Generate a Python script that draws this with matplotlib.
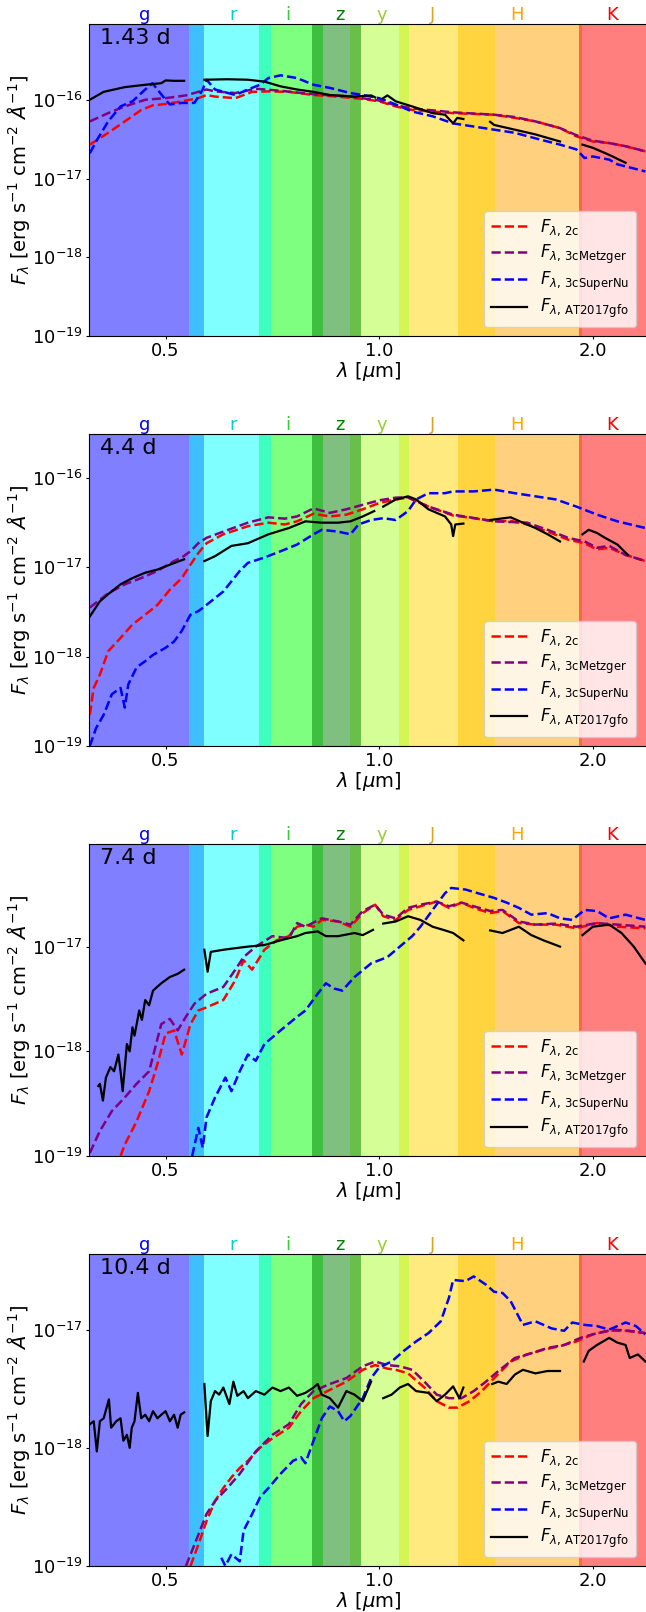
import numpy as np
import matplotlib
matplotlib.use('Agg')
import matplotlib.pyplot as plt
from matplotlib.ticker import NullLocator
import matplotlib.transforms as mtransforms

nan = np.nan

# epochs after merger
epochs = ['1.43 d', '4.4 d', '7.4 d', '10.4 d']

# photometric bands (micron)
band_names = ['g', 'r', 'i', 'z', 'y', 'J', 'H', 'K']
band_lo = [0.30, 0.5395, 0.678, 0.804, 0.910, 1.065, 1.293, 1.911]
band_hi = [0.566, 0.703, 0.833, 0.942, 1.103, 1.456, 1.930, 2.60]
band_label_wl = [0.467, 0.622, 0.744, 0.881, 1.007, 1.19, 1.562, 2.13]
band_fill = ['blue', 'cyan', 'lime', 'green', 'greenyellow', 'gold', 'orange', 'red']
band_text = ['blue', 'darkturquoise', 'limegreen', 'green', 'yellowgreen',
             'goldenrod', 'orange', 'red']
band_draw_order = ['g', 'i', 'r', 'H', 'K', 'J', 'y', 'z']

# spectra: (wavelength [um], log10 F_lambda)
# --- 1.43 d
sed_2c_1 = [(0.391, -16.57), (0.415, -16.42), (0.438, -16.275), (0.462, -16.13), (0.480, -16.07),
            (0.500, -16.055), (0.527, -16.02), (0.556, -15.98), (0.571, -15.94), (0.587, -15.96),
            (0.627, -15.98), (0.662, -15.90), (0.698, -15.894), (0.746, -15.90), (0.808, -15.94),
            (0.875, -15.96), (0.948, -15.99), (1.0, -16.02), (1.055, -16.085), (1.113, -16.13),
            (1.189, -16.15), (1.271, -16.17), (1.452, -16.19), (1.553, -16.23), (1.660, -16.275),
            (1.798, -16.36), (1.896, -16.465), (2.0, -16.53), (2.109, -16.55), (2.224, -16.59),
            (2.372, -16.655)]
sed_metz_1 = [(0.391, -16.275), (0.415, -16.17), (0.438, -16.085), (0.468, -16.0), (0.500, -15.98),
              (0.534, -15.945), (0.571, -15.87), (0.587, -15.894), (0.627, -15.915), (0.670, -15.86),
              (0.726, -15.886), (0.808, -15.93), (0.911, -15.96), (1.0, -16.01), (1.055, -16.07),
              (1.113, -16.11), (1.271, -16.16), (1.452, -16.19), (1.553, -16.22), (1.660, -16.275),
              (1.798, -16.36), (1.896, -16.45), (2.0, -16.52), (2.109, -16.55), (2.224, -16.59),
              (2.372, -16.655)]
sed_snu_1 = [(0.391, -16.68), (0.399, -16.53), (0.415, -16.275), (0.432, -16.085), (0.449, -16.02),
             (0.468, -15.87), (0.479, -15.79), (0.500, -16.0), (0.507, -16.06), (0.527, -16.04),
             (0.549, -16.04), (0.564, -15.87), (0.571, -15.746), (0.587, -15.87), (0.627, -15.94),
             (0.653, -15.87), (0.679, -15.81), (0.698, -15.725), (0.726, -15.69), (0.766, -15.725),
             (0.808, -15.81), (0.852, -15.85), (0.911, -15.915), (0.948, -15.94), (1.0, -15.98),
             (1.055, -16.06), (1.113, -16.15), (1.189, -16.21), (1.271, -16.30), (1.359, -16.34),
             (1.452, -16.38), (1.553, -16.42), (1.660, -16.49), (1.798, -16.57), (1.896, -16.63),
             (1.947, -16.74), (2.0, -16.72), (2.109, -16.76), (2.166, -16.82), (2.372, -16.91)]
sed_obs_1 = [(0.391, -16.0), (0.409, -15.90), (0.438, -15.84), (0.468, -15.81), (0.493, -15.79),
             (0.500, -15.755), (0.514, -15.76), (0.531, -15.76), (0.54, nan),
             (0.567, -15.746), (0.611, -15.74), (0.653, -15.746), (0.689, -15.77), (0.726, -15.83),
             (0.766, -15.87), (0.808, -15.90), (0.852, -15.94), (0.923, -15.96), (0.974, -15.945),
             (0.987, -15.97), (1.0, nan),
             (1.013, -15.98), (1.027, -15.945), (1.055, -16.02), (1.113, -16.085), (1.189, -16.17),
             (1.238, -16.19), (1.271, -16.30), (1.288, -16.23), (1.314, -16.245), (1.35, nan),
             (1.433, -16.28), (1.452, -16.32), (1.553, -16.38), (1.660, -16.44), (1.798, -16.53),
             (1.85, nan),
             (1.934, -16.57), (2.0, -16.61), (2.109, -16.70), (2.224, -16.80)]

# --- 4.4 d
sed_2c_2 = [(0.391, -18.65), (0.396, -18.35), (0.404, -18.20), (0.415, -17.94), (0.432, -17.79),
            (0.449, -17.64), (0.468, -17.53), (0.487, -17.42), (0.507, -17.25), (0.527, -17.12),
            (0.542, -16.97), (0.556, -16.84), (0.571, -16.73), (0.603, -16.63), (0.653, -16.54),
            (0.698, -16.50), (0.736, -16.52), (0.766, -16.485), (0.808, -16.40), (0.852, -16.43),
            (0.899, -16.41), (0.948, -16.35), (1.0, -16.28), (1.055, -16.24), (1.098, -16.22),
            (1.173, -16.32), (1.271, -16.42), (1.359, -16.45), (1.452, -16.485), (1.532, -16.48),
            (1.616, -16.52), (1.727, -16.60), (1.846, -16.69), (1.947, -16.73), (2.027, -16.80),
            (2.109, -16.78), (2.224, -16.86), (2.372, -16.93)]
sed_metz_2 = [(0.391, -17.45), (0.415, -17.29), (0.438, -17.19), (0.462, -17.12), (0.487, -17.04),
              (0.514, -16.93), (0.527, -16.89), (0.542, -16.82), (0.556, -16.73), (0.571, -16.67),
              (0.603, -16.60), (0.653, -16.50), (0.698, -16.44), (0.736, -16.455), (0.766, -16.43),
              (0.808, -16.34), (0.852, -16.39), (0.899, -16.35), (0.948, -16.30), (1.0, -16.25),
              (1.055, -16.22), (1.098, -16.216), (1.173, -16.32), (1.271, -16.41), (1.452, -16.485),
              (1.616, -16.50), (1.727, -16.58), (1.846, -16.67), (1.947, -16.71), (2.027, -16.78),
              (2.109, -16.76), (2.224, -16.86), (2.372, -16.93)]
sed_snu_2 = [(0.391, -19.0), (0.399, -18.80), (0.409, -18.65), (0.420, -18.42), (0.432, -18.35),
             (0.438, -18.57), (0.443, -18.31), (0.455, -18.12), (0.468, -18.05), (0.480, -17.98),
             (0.500, -17.90), (0.514, -17.83), (0.527, -17.71), (0.542, -17.53), (0.556, -17.49),
             (0.571, -17.42), (0.603, -17.27), (0.636, -17.04), (0.653, -16.95), (0.689, -16.89),
             (0.726, -16.82), (0.766, -16.745), (0.808, -16.63), (0.830, -16.58), (0.875, -16.60),
             (0.911, -16.63), (0.935, -16.52), (0.974, -16.47), (1.013, -16.45), (1.055, -16.47),
             (1.098, -16.37), (1.127, -16.24), (1.173, -16.17), (1.238, -16.17), (1.271, -16.15),
             (1.359, -16.15), (1.452, -16.13), (1.553, -16.17), (1.660, -16.205), (1.774, -16.24),
             (1.896, -16.32), (2.027, -16.41), (2.166, -16.485), (2.372, -16.56)]
sed_obs_2 = [(0.391, -17.55), (0.404, -17.38), (0.415, -17.30), (0.432, -17.19), (0.449, -17.12),
             (0.468, -17.06), (0.487, -17.025), (0.507, -16.97), (0.531, -16.91), (0.54, nan),
             (0.567, -16.93), (0.587, -16.875), (0.619, -16.76), (0.653, -16.73), (0.698, -16.63),
             (0.746, -16.56), (0.787, -16.485), (0.830, -16.50), (0.875, -16.50), (0.911, -16.485),
             (0.948, -16.43), (0.984, -16.37), (1.0, nan),
             (1.013, -16.32), (1.055, -16.24), (1.098, -16.205), (1.127, -16.24), (1.173, -16.35),
             (1.238, -16.43), (1.263, -16.52), (1.271, -16.65), (1.280, -16.52), (1.314, -16.51),
             (1.35, nan),
             (1.433, -16.47), (1.532, -16.44), (1.594, -16.50), (1.660, -16.56), (1.727, -16.63),
             (1.798, -16.71), (1.85, nan),
             (1.934, -16.63), (1.973, -16.58), (2.027, -16.615), (2.081, -16.67), (2.166, -16.745),
             (2.240, -16.86)]

# --- 7.4 d
sed_2c_3 = [(0.432, -19.0), (0.438, -18.89), (0.455, -18.67), (0.474, -18.38), (0.487, -18.12),
            (0.500, -17.83), (0.514, -17.80), (0.527, -18.03), (0.542, -17.74), (0.556, -17.61),
            (0.571, -17.58), (0.603, -17.51), (0.627, -17.32), (0.644, -17.13), (0.662, -17.22),
            (0.689, -17.03), (0.717, -16.94), (0.746, -16.90), (0.766, -16.81), (0.787, -16.79),
            (0.808, -16.81), (0.830, -16.745), (0.875, -16.76), (0.911, -16.81), (0.948, -16.68),
            (0.987, -16.60), (1.013, -16.71), (1.055, -16.745), (1.098, -16.65), (1.143, -16.615),
            (1.205, -16.57), (1.254, -16.63), (1.306, -16.58), (1.359, -16.63), (1.433, -16.68),
            (1.492, -16.66), (1.573, -16.775), (1.660, -16.79), (1.774, -16.79), (1.896, -16.825),
            (2.027, -16.775), (2.166, -16.81), (2.372, -16.825)]
sed_metz_3 = [(0.391, -18.97), (0.404, -18.76), (0.420, -18.57), (0.438, -18.44), (0.455, -18.31),
              (0.474, -18.19), (0.493, -17.74), (0.507, -17.69), (0.520, -17.80), (0.534, -17.67),
              (0.549, -17.545), (0.571, -17.45), (0.603, -17.385), (0.627, -17.22), (0.644, -17.10),
              (0.670, -17.0), (0.707, -16.90), (0.746, -16.92), (0.766, -16.775), (0.787, -16.81),
              (0.830, -16.73), (0.875, -16.76), (0.911, -16.79), (0.948, -16.66), (0.987, -16.60),
              (1.013, -16.695), (1.055, -16.73), (1.098, -16.63), (1.143, -16.60), (1.205, -16.57),
              (1.254, -16.615), (1.306, -16.58), (1.359, -16.615), (1.433, -16.66), (1.492, -16.65),
              (1.573, -16.76), (1.660, -16.79), (1.774, -16.78), (1.896, -16.81), (2.027, -16.775),
              (2.166, -16.79), (2.372, -16.81)]
sed_snu_3 = [(0.545, -19.0), (0.556, -18.73), (0.564, -18.92), (0.571, -18.63), (0.587, -18.44),
             (0.607, -18.25), (0.619, -18.38), (0.636, -18.19), (0.653, -18.03), (0.670, -18.09),
             (0.689, -17.93), (0.726, -17.80), (0.766, -17.67), (0.787, -17.61), (0.819, -17.45),
             (0.841, -17.35), (0.864, -17.40), (0.887, -17.42), (0.923, -17.29), (0.974, -17.16),
             (1.027, -17.10), (1.069, -17.0), (1.113, -16.90), (1.143, -16.81), (1.189, -16.65),
             (1.238, -16.49), (1.263, -16.44), (1.323, -16.455), (1.377, -16.49), (1.452, -16.535),
             (1.512, -16.58), (1.573, -16.63), (1.638, -16.695), (1.727, -16.68), (1.798, -16.73),
             (1.871, -16.745), (1.947, -16.65), (2.027, -16.66), (2.109, -16.73), (2.224, -16.695),
             (2.372, -16.745)]
sed_obs_3 = [(0.402, -18.33), (0.404, -18.31), (0.408, -18.47), (0.412, -18.25), (0.418, -18.15),
             (0.423, -18.19), (0.429, -18.03), (0.432, -18.19), (0.435, -18.38), (0.441, -17.93),
             (0.445, -18.0), (0.449, -17.77), (0.452, -17.85), (0.459, -17.61), (0.463, -17.70),
             (0.468, -17.51), (0.474, -17.56), (0.480, -17.42), (0.493, -17.35), (0.507, -17.29),
             (0.520, -17.26), (0.531, -17.22), (0.54, nan),
             (0.567, -17.03), (0.573, -17.24), (0.579, -17.05), (0.603, -17.03), (0.627, -17.015),
             (0.653, -17.0), (0.689, -16.985), (0.726, -16.94), (0.766, -16.90), (0.787, -16.87),
             (0.819, -16.855), (0.841, -16.90), (0.875, -16.90), (0.923, -16.87), (0.948, -16.89),
             (0.980, -16.84), (1.0, nan),
             (1.013, -16.78), (1.055, -16.76), (1.098, -16.71), (1.143, -16.745), (1.189, -16.81),
             (1.238, -16.845), (1.271, -16.87), (1.314, -16.94), (1.35, nan),
             (1.433, -16.845), (1.492, -16.87), (1.573, -16.81), (1.638, -16.89), (1.704, -16.94),
             (1.798, -17.0), (1.85, nan),
             (1.934, -16.89), (2.0, -16.81), (2.109, -16.79), (2.195, -16.87), (2.284, -17.0),
             (2.372, -17.16)]

# --- 10.4 d
sed_2c_4 = [(0.542, -19.0), (0.556, -18.82), (0.571, -18.62), (0.587, -18.45), (0.603, -18.34),
            (0.619, -18.25), (0.636, -18.17), (0.653, -18.11), (0.679, -18.0), (0.707, -17.92),
            (0.746, -17.83), (0.776, -17.69), (0.808, -17.58), (0.852, -17.51), (0.899, -17.44),
            (0.948, -17.34), (0.987, -17.30), (1.027, -17.33), (1.055, -17.34), (1.098, -17.37),
            (1.158, -17.49), (1.205, -17.605), (1.254, -17.66), (1.288, -17.66), (1.341, -17.605),
            (1.395, -17.52), (1.452, -17.41), (1.532, -17.27), (1.616, -17.21), (1.704, -17.17),
            (1.798, -17.14), (1.896, -17.10), (2.0, -17.04), (2.109, -17.01), (2.224, -17.01),
            (2.372, -17.03)]
sed_metz_4 = [(0.534, -19.0), (0.549, -18.82), (0.571, -18.56), (0.587, -18.45), (0.611, -18.34),
              (0.636, -18.22), (0.670, -18.03), (0.707, -17.89), (0.746, -17.80), (0.776, -17.63),
              (0.808, -17.52), (0.852, -17.46), (0.899, -17.41), (0.948, -17.31), (0.987, -17.27),
              (1.027, -17.30), (1.069, -17.31), (1.113, -17.34), (1.158, -17.44), (1.205, -17.55),
              (1.254, -17.58), (1.306, -17.58), (1.359, -17.52), (1.414, -17.44), (1.472, -17.35),
              (1.553, -17.24), (1.638, -17.20), (1.727, -17.155), (1.822, -17.13), (1.921, -17.07),
              (2.027, -17.03), (2.137, -17.0), (2.254, -17.01), (2.372, -17.03)]
sed_snu_4 = [(0.599, -18.93), (0.607, -19.0), (0.619, -18.90), (0.636, -18.96), (0.644, -18.70),
             (0.662, -18.56), (0.679, -18.42), (0.698, -18.34), (0.726, -18.22), (0.756, -18.11),
             (0.776, -18.08), (0.787, -18.13), (0.808, -17.94), (0.830, -17.75), (0.852, -17.65),
             (0.875, -17.69), (0.893, -17.775), (0.911, -17.73), (0.948, -17.58), (0.974, -17.41),
             (1.0, -17.32), (1.041, -17.27), (1.083, -17.18), (1.127, -17.10), (1.173, -17.03),
             (1.221, -16.93), (1.254, -16.73), (1.271, -16.58), (1.323, -16.59), (1.359, -16.55),
             (1.414, -16.62), (1.452, -16.68), (1.492, -16.69), (1.532, -16.76), (1.594, -16.96),
             (1.660, -16.93), (1.750, -16.99), (1.822, -17.01), (1.871, -16.94), (1.947, -16.96),
             (2.027, -16.97), (2.109, -17.0), (2.224, -16.94), (2.300, -16.97), (2.372, -17.04)]
sed_obs_4 = [(0.391, -17.80), (0.396, -17.775), (0.400, -18.03), (0.404, -17.775), (0.409, -17.75),
             (0.416, -17.59), (0.419, -17.83), (0.426, -17.775), (0.432, -17.75), (0.436, -17.94),
             (0.441, -17.89), (0.445, -18.0), (0.448, -17.83), (0.452, -17.775), (0.457, -17.535),
             (0.462, -17.75), (0.468, -17.72), (0.474, -17.775), (0.480, -17.69), (0.487, -17.75),
             (0.493, -17.72), (0.500, -17.69), (0.507, -17.775), (0.514, -17.72), (0.520, -17.83),
             (0.525, -17.72), (0.531, -17.70), (0.54, nan),
             (0.567, -17.46), (0.573, -17.90), (0.579, -17.605), (0.587, -17.52), (0.595, -17.55),
             (0.603, -17.49), (0.615, -17.63), (0.623, -17.44), (0.631, -17.56), (0.644, -17.52),
             (0.653, -17.58), (0.670, -17.52), (0.689, -17.55), (0.707, -17.49), (0.726, -17.52),
             (0.746, -17.49), (0.766, -17.56), (0.787, -17.535), (0.808, -17.49), (0.819, -17.46),
             (0.830, -17.55), (0.852, -17.58), (0.875, -17.66), (0.899, -17.52), (0.923, -17.55),
             (0.948, -17.605), (0.974, -17.44), (1.0, nan),
             (1.013, -17.58), (1.041, -17.55), (1.069, -17.49), (1.098, -17.46), (1.127, -17.52),
             (1.173, -17.535), (1.205, -17.605), (1.238, -17.55), (1.271, -17.48), (1.297, -17.58),
             (1.314, -17.49), (1.35, nan),
             (1.443, -17.46), (1.472, -17.44), (1.512, -17.46), (1.553, -17.38), (1.594, -17.34),
             (1.660, -17.37), (1.727, -17.35), (1.798, -17.35), (1.85, nan),
             (1.942, -17.27), (1.973, -17.18), (2.027, -17.13), (2.109, -17.07), (2.166, -17.11),
             (2.224, -17.13), (2.254, -17.24), (2.315, -17.21), (2.372, -17.27)]

models_2c = [sed_2c_1, sed_2c_2, sed_2c_3, sed_2c_4]
models_metz = [sed_metz_1, sed_metz_2, sed_metz_3, sed_metz_4]
models_snu = [sed_snu_1, sed_snu_2, sed_snu_3, sed_snu_4]
observed = [sed_obs_1, sed_obs_2, sed_obs_3, sed_obs_4]
y_top = [9.1e-16, 3.1e-16, 9.5e-17, 4.35e-17]

plt.rcParams['font.size'] = 13
plt.rcParams['mathtext.default'] = 'it'

fig = plt.figure(figsize=(6.46, 16.12), dpi=100)
bottoms = [0.7915, 0.5372, 0.2828, 0.0285]


def spec(sed):
    a = np.array(sed, dtype=float)
    return a[:, 0], 10.0 ** a[:, 1]


for k in range(4):
    ax = fig.add_axes([0.1378, bottoms[k], 0.8669, 0.1935])
    ax.set_xscale('log')
    ax.set_yscale('log')

    for name in band_draw_order:
        j = band_names.index(name)
        ax.axvspan(band_lo[j], band_hi[j], color=band_fill[j], alpha=0.5, lw=0)
    trans = mtransforms.blended_transform_factory(ax.transData, ax.transAxes)
    for j, name in enumerate(band_names):
        ax.text(band_label_wl[j], 1.014, name, color=band_text[j], fontsize=13,
                ha='center', va='baseline', transform=trans)

    x, y = spec(models_2c[k])
    ax.plot(x, y, color='red', ls='--', lw=1.8, label=r'$F_{\lambda,\,\mathrm{2c}}$')
    x, y = spec(models_metz[k])
    ax.plot(x, y, color='purple', ls='--', lw=1.8, label=r'$F_{\lambda,\,\mathrm{3cMetzger}}$')
    x, y = spec(models_snu[k])
    ax.plot(x, y, color='blue', ls='--', lw=1.8, label=r'$F_{\lambda,\,\mathrm{3cSuperNu}}$')
    x, y = spec(observed[k])
    ax.plot(x, y, color='black', ls='-', lw=1.6, label=r'$F_{\lambda,\,\mathrm{AT2017gfo}}$')

    ax.set_xlim(0.39, 2.4)
    ax.set_ylim(1e-19, y_top[k])
    ax.set_xticks([0.5, 1.0, 2.0])
    ax.set_xticklabels(['0.5', '1.0', '2.0'])
    ax.xaxis.set_minor_locator(NullLocator())
    ax.yaxis.set_minor_locator(NullLocator())
    ax.tick_params(labelsize=13, length=2.5, pad=2)

    ax.text(0.02, 0.987, epochs[k], transform=ax.transAxes, fontsize=16,
            ha='left', va='top')
    ax.set_xlabel(r'$\lambda$ [$\mu$m]', fontsize=14, labelpad=0)
    ax.set_ylabel(r'$F_\lambda$ [erg s$^{-1}$ cm$^{-2}$ $\AA^{-1}$]', fontsize=14, labelpad=0)
    ax.legend(loc='lower right', bbox_to_anchor=(0.977, 0.029), borderaxespad=0,
              fontsize=12, handlelength=2.15, labelspacing=0.25)

fig.savefig('out.png', dpi=100)
